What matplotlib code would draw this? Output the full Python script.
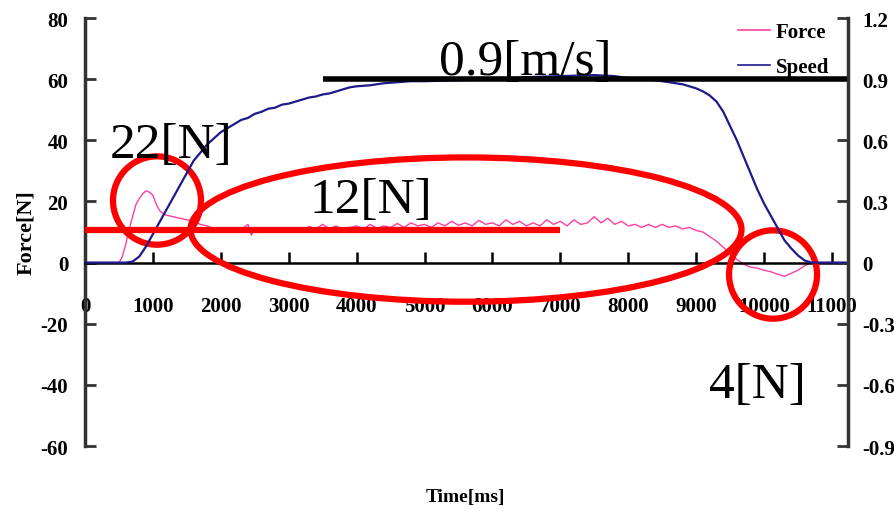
import matplotlib
matplotlib.use("Agg")
import matplotlib.pyplot as plt
from matplotlib.patches import Ellipse
from matplotlib.lines import Line2D

plt.rcParams['font.family'] = ['Liberation Serif', 'DejaVu Serif']

# force [N] vs time [ms]
force_t = [0, 200, 400, 500, 550, 600, 650, 700, 750, 800, 850, 900, 950, 1000,
           1050, 1100, 1150, 1200, 1300, 1400, 1500, 1600, 1700, 1800, 1900, 2000,
           2100, 2200, 2300, 2400, 2450, 2500, 2600, 2700, 2800, 2900, 3000, 3100,
           3200, 3300, 3400, 3500, 3600, 3700, 3800, 3900, 4000, 4100, 4200, 4300,
           4400, 4500, 4600, 4700, 4800, 4900, 5000, 5100, 5200, 5300, 5400, 5500,
           5600, 5700, 5800, 5900, 6000, 6100, 6200, 6300, 6400, 6500, 6600, 6700,
           6800, 6900, 7000, 7100, 7200, 7300, 7400, 7500, 7600, 7700, 7800, 7900,
           8000, 8100, 8200, 8300, 8400, 8500, 8600, 8700, 8800, 8900, 9000, 9100,
           9200, 9300, 9400, 9500, 9600, 9700, 9800, 9900, 10000, 10100, 10200,
           10300, 10400, 10500, 10600, 10700, 10800, 11000, 11200]
force_v = [0, 0, 0, 0, 2, 6, 11, 15, 19, 21, 22.5, 23.5, 23, 22,
           19, 17, 16, 15.5, 15, 14.5, 14, 13.5, 12.5, 12, 11, 11,
           10.5, 10.5, 10.8, 12.5, 9, 11, 10.5, 10.7, 10, 10.8, 10.2, 11,
           10.3, 11.8, 11, 12.5, 11, 12, 10.5, 11.5, 12, 11, 12.5, 11.2,
           12, 11.5, 12.8, 11.5, 13, 12, 12.5, 11.5, 13, 12, 13.5, 12.2,
           13, 12, 13.8, 12.5, 13, 12, 14, 12.5, 13.5, 12, 13, 12,
           14, 12.5, 13.5, 12, 14, 12.5, 13, 15, 13, 14.5, 12.5, 13.5,
           12, 12.5, 11.5, 12.5, 11.5, 12.5, 11.5, 12, 11, 11.5, 10.5, 10,
           8.5, 7, 5, 3, 1, -0.5, -1.5, -1.8, -2.5, -3, -3.8,
           -4.5, -3.5, -2.5, -1, 0, 0, 0, 0]

# speed [m/s] vs time [ms]
speed_t = [0, 400, 600, 700, 800, 900, 1000, 1100, 1200, 1300, 1400, 1500, 1600,
           1700, 1800, 1900, 2000, 2100, 2200, 2300, 2400, 2500, 2600, 2700, 2800,
           2900, 3000, 3100, 3200, 3300, 3400, 3500, 3600, 3700, 3800, 3900, 4000,
           4200, 4400, 4600, 4800, 5000, 5500, 6000, 6500, 7000, 7500, 7800, 8000,
           8200, 8400, 8600, 8800, 9000, 9100, 9200, 9300, 9400, 9500, 9600, 9700,
           9800, 9900, 10000, 10100, 10200, 10300, 10400, 10500, 10600, 10700, 11200]
speed_v = [0, 0, 0, 0.005, 0.03, 0.08, 0.14, 0.2, 0.26, 0.32, 0.38, 0.44, 0.5,
           0.54, 0.58, 0.61, 0.64, 0.66, 0.68, 0.7, 0.71, 0.73, 0.74, 0.755, 0.76,
           0.775, 0.78, 0.79, 0.8, 0.81, 0.815, 0.825, 0.83, 0.84, 0.85, 0.86, 0.865,
           0.87, 0.88, 0.885, 0.89, 0.89, 0.895, 0.9, 0.91, 0.915, 0.92, 0.915, 0.905,
           0.9, 0.895, 0.885, 0.875, 0.855, 0.84, 0.82, 0.79, 0.74, 0.67, 0.6, 0.52,
           0.44, 0.36, 0.29, 0.23, 0.17, 0.11, 0.07, 0.035, 0.01, 0, 0]

x_ticks = [0, 1000, 2000, 3000, 4000, 5000, 6000, 7000, 8000, 9000, 10000, 11000]
force_ticks = [80, 60, 40, 20, 0, -20, -40, -60]
speed_ticks = [1.2, 0.9, 0.6, 0.3, 0, -0.3, -0.6, -0.9]
speed_labels = ['1.2', '0.9', '0.6', '0.3', '0', '-0.3', '-0.6', '-0.9']

XMAX = 11237
pink = '#ff3fa0'
navy = '#1f1a8a'
red = '#ff0000'

fig = plt.figure(figsize=(8.95, 5.10), dpi=100)
ax = fig.add_axes([0.095, 0.1235, 0.8525, 0.8392])
ax2 = ax.twinx()

ax.plot(force_t, force_v, color=pink, lw=1.0)
ax2.plot(speed_t, speed_v, color=navy, lw=1.6)

ax.set_xlim(0, XMAX)
ax.set_ylim(-60, 80)
ax2.set_ylim(-0.9, 1.2)

for a in (ax, ax2):
    a.spines['top'].set_visible(False)
    a.spines['left'].set_linewidth(2.5)
    a.spines['right'].set_linewidth(2.5)
    a.spines['left'].set_color('#333333')
    a.spines['right'].set_color('#333333')
ax.spines['bottom'].set_position(('data', 0))
ax.spines['bottom'].set_linewidth(1.8)
ax2.spines['bottom'].set_visible(False)
ax.spines['right'].set_visible(False)
ax2.spines['left'].set_visible(False)

ax.set_xticks(x_ticks)
ax.set_xticklabels([str(t) for t in x_ticks])
ax.tick_params(axis='x', direction='in', length=8, width=1.8, pad=24,
               labelsize=15)
ax.set_yticks(force_ticks)
ax.set_yticklabels([str(t) for t in force_ticks])
ax.tick_params(axis='y', direction='in', length=8, width=2, pad=12,
               labelsize=15, color='#333333')
ax2.set_yticks(speed_ticks)
ax2.set_yticklabels(speed_labels)
ax2.tick_params(axis='y', direction='in', length=8, width=2, pad=10,
                labelsize=15, color='#333333')
for lab in ax.get_xticklabels() + ax.get_yticklabels() + ax2.get_yticklabels():
    lab.set_fontweight('bold')

ax.set_ylabel('Force[N]', fontsize=16, fontweight='bold', labelpad=3)
fig.text(0.52, 0.025, 'Time[ms]', fontsize=14, fontweight='bold',
         ha='center', va='center')

handles = [Line2D([], [], color=pink, lw=1.2), Line2D([], [], color=navy, lw=1.2)]
leg = ax2.legend(handles, ['Force', 'Speed'], loc='upper right',
                 bbox_to_anchor=(1.0, 1.035), frameon=False,
                 prop={'weight': 'bold', 'size': 15}, handlelength=1.5,
                 handletextpad=0.3, labelspacing=0.75)

# annotations, drawn in force coordinates on top of both lines
tr = ax.transData
ax2.plot([3500, XMAX], [60, 60], color='black', lw=4, transform=tr,
         solid_capstyle='butt', clip_on=False)
ax2.plot([0, 7000], [10.5, 10.5], color=red, lw=4.5, transform=tr,
         solid_capstyle='butt')
for cx, cy, w, h in [(1060, 20.3, 1296, 28.9), (5611, 10.8, 8115, 47.2),
                     (10133, -3.9, 1296, 28.9)]:
    ax2.add_patch(Ellipse((cx, cy), w, h, fill=False, ec=red, lw=4.5,
                          transform=tr))

for tx, ty, s in [(5220, 61.6, '0.9[m/s]'), (368, 34.4, '22[N]'),
                  (3310, 16.4, '12[N]'), (9190, -43.9, '4[N]')]:
    ax2.text(tx, ty, s, transform=tr, fontsize=37, ha='left', va='baseline',
             color='black')

fig.savefig('out.png', dpi=100)
